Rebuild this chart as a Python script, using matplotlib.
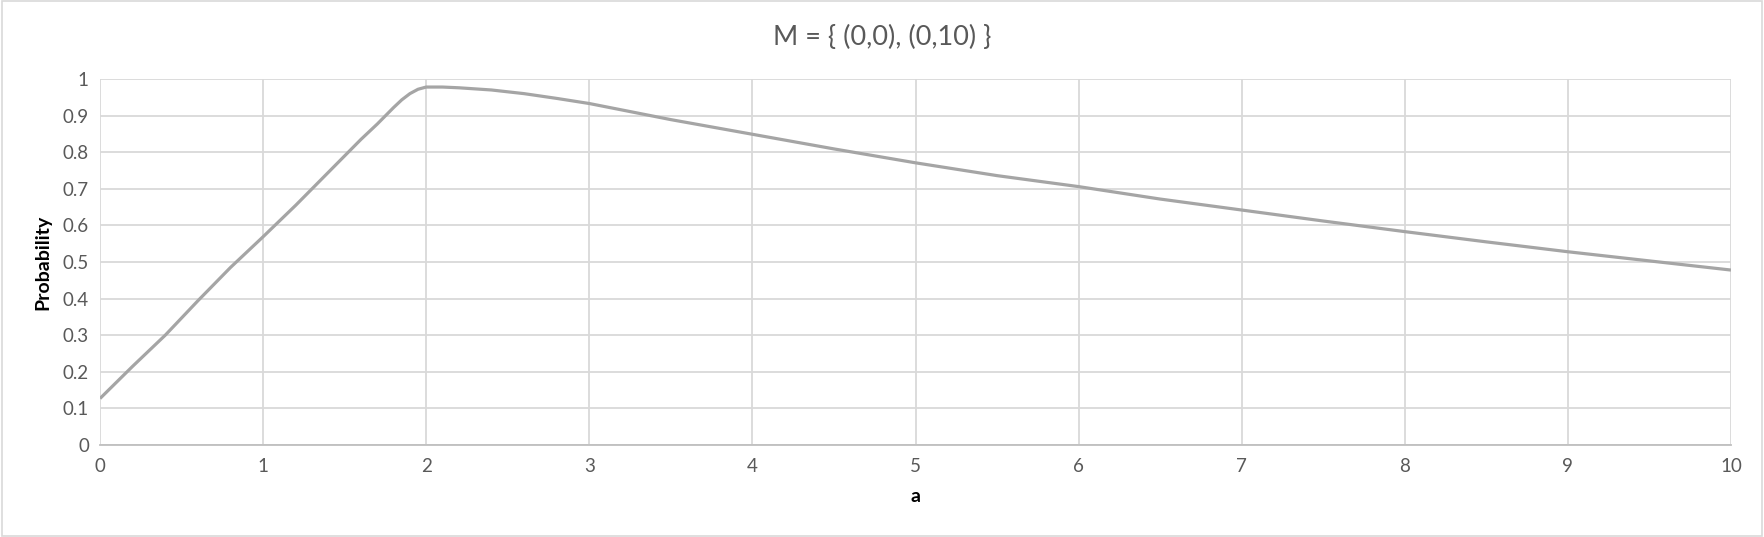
import matplotlib.pyplot as plt
from matplotlib.patches import Rectangle

# values
a_values = [0.0, 0.2, 0.4, 0.6, 0.8, 1.0, 1.2, 1.4, 1.6, 1.7, 1.8, 1.85, 1.9, 1.95,
            2.0, 2.1, 2.2, 2.4, 2.6, 2.8, 3.0, 3.5, 4.0, 4.5, 5.0, 5.5, 6.0, 6.5,
            7.0, 7.5, 8.0, 8.5, 9.0, 9.5, 10.0]
probability = [0.127, 0.215, 0.300, 0.394, 0.485, 0.569, 0.655, 0.745, 0.835,
               0.877, 0.922, 0.943, 0.960, 0.972, 0.978, 0.978, 0.976, 0.970,
               0.960, 0.947, 0.933, 0.889, 0.849, 0.809, 0.771, 0.736, 0.706,
               0.672, 0.642, 0.612, 0.583, 0.555, 0.528, 0.503, 0.478]
x_ticks = list(range(0, 11))
y_ticks = [0, 0.1, 0.2, 0.3, 0.4, 0.5, 0.6, 0.7, 0.8, 0.9, 1]
y_tick_labels = ['0', '0.1', '0.2', '0.3', '0.4', '0.5', '0.6', '0.7', '0.8', '0.9', '1']

plt.rcParams['font.family'] = ['Lato', 'DejaVu Sans']
text_gray = '#595959'
grid_gray = '#d9d9d9'

fig = plt.figure(figsize=(17.64, 5.37), dpi=100)
fig.patches.append(Rectangle((0.001, 0.002), 0.998, 0.996, transform=fig.transFigure,
                             fill=False, edgecolor=grid_gray, linewidth=1.2))
ax = fig.add_axes([100 / 1764, 1 - 445 / 537, 1631 / 1764, 366 / 537])

ax.plot(a_values, probability, color='#a5a5a5', linewidth=2.3,
        solid_joinstyle='round', solid_capstyle='butt')

ax.set_xlim(0, 10)
ax.set_ylim(0, 1)
ax.set_xticks(x_ticks)
ax.set_yticks(y_ticks)
ax.set_yticklabels(y_tick_labels)
ax.grid(True, color=grid_gray, linewidth=1.3)
ax.set_axisbelow(True)
for side in ['top', 'right', 'left']:
    ax.spines[side].set_visible(False)
ax.spines['bottom'].set_color('#bfbfbf')
ax.spines['bottom'].set_linewidth(1.3)
ax.tick_params(axis='both', length=0, labelsize=13.5, colors=text_gray)
ax.tick_params(axis='x', pad=9)
ax.tick_params(axis='y', pad=8)

ax.set_xlabel('a', fontsize=14, fontweight='bold', color='black', labelpad=10)
ax.set_ylabel('Probability', fontsize=14, fontweight='bold', color='black', labelpad=8)
fig.text(0.5, 1 - 37 / 537, 'M = { (0,0), (0,10) }', ha='center', va='center',
         fontsize=19.5, color=text_gray)

fig.savefig('out.png', dpi=100)
